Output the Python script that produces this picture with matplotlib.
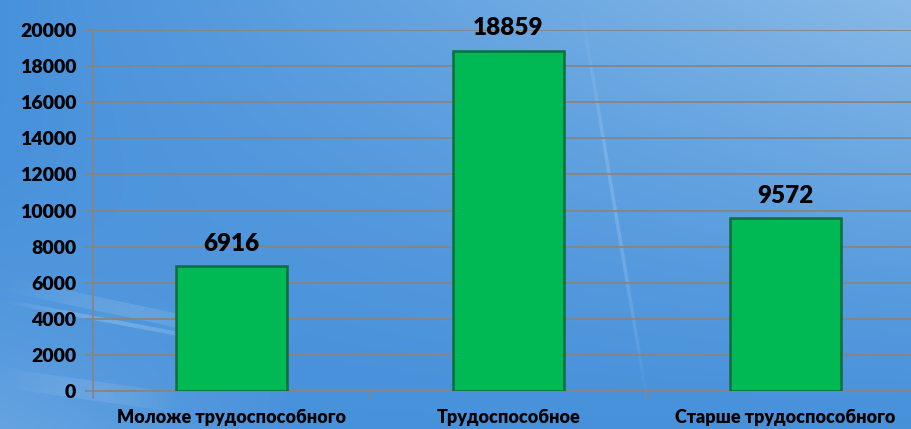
import numpy as np
import matplotlib
matplotlib.use('Agg')
from matplotlib import pyplot as plt
from matplotlib.collections import LineCollection

# Chart data
categories = ['Моложе трудоспособного', 'Трудоспособное', 'Старше трудоспособного']
values = [6916, 18859, 9572]
y_ticks = list(range(0, 20001, 2000))

# Plot aspects
color_bar = '#00b955'
color_edge = '#0c6e3c'
color_grid = '#858585'
plt.rcParams['font.family'] = ['Lato', 'DejaVu Sans']

fig = plt.figure(figsize=(9.12, 4.29), dpi=100)

# Background: blue gradient with faint light streaks
bg = fig.add_axes([0, 0, 1, 1], zorder=-10)
h, w = 215, 456
yy, xx = np.mgrid[0:1:h * 1j, 0:1:w * 1j]
dark = np.array([0.28, 0.57, 0.86])
light = np.array([0.62, 0.78, 0.92])
t = np.clip(0.75 * xx * (1 - yy) ** 1.2 + 0.35 * np.clip(1 - 3 * xx, 0, 1) * yy ** 3, 0, 1)
img = dark[None, None, :] * (1 - t[..., None]) + light[None, None, :] * t[..., None]
bg.imshow(img, extent=[0, 1, 0, 1], aspect='auto', origin='upper')


def streak(x0, x1, y0, slope, lw, alpha):
    sx = np.linspace(x0, x1, 60)
    sy = y0 + slope * (sx - x0)
    pts = np.array([sx, sy]).T.reshape(-1, 1, 2)
    segs = np.concatenate([pts[:-1], pts[1:]], axis=1)
    fade = np.sin(np.linspace(0, np.pi, len(segs))) * alpha
    cols = [(1, 1, 1, a) for a in fade]
    bg.add_collection(LineCollection(segs, colors=cols, linewidths=lw, capstyle='butt'))


streak(0.0, 0.30, 0.34, -0.45, 10, 0.12)
streak(0.0, 0.25, 0.30, -0.40, 3, 0.20)
streak(0.0, 0.20, 0.12, -0.30, 14, 0.10)
streak(0.636, 0.712, 1.0, -12.7, 2.5, 0.16)
bg.set_xlim(0, 1)
bg.set_ylim(0, 1)
bg.axis('off')

# Main axes
ax = fig.add_axes([93 / 912, 38 / 429, 831 / 912, 361 / 429])
ax.patch.set_alpha(0)
x = np.arange(len(categories))
ax.bar(x, values, width=0.4, color=color_bar, edgecolor=color_edge, linewidth=1.8, zorder=3)
for xi, v in zip(x, values):
    ax.annotate(f'{v}', (xi, v), xytext=(0, 8), textcoords='offset points', ha='center', va='bottom',
                fontsize=17.5, fontweight='heavy', color='black')

ax.set_xlim(-0.5, len(categories) - 0.5)
ax.set_ylim(0, 20000)
ax.set_yticks(y_ticks)
ax.set_yticklabels([str(v) for v in y_ticks], fontsize=14, fontweight='heavy')
ax.set_xticks(x)
ax.set_xticklabels(categories, fontsize=13, fontweight='heavy')
ax.set_xticks(np.arange(-0.5, len(categories), 1.0), minor=True)
ax.grid(axis='y', color=color_grid, linewidth=1.3, zorder=0)
for side in ['top', 'right']:
    ax.spines[side].set_visible(False)
for side in ['left', 'bottom']:
    ax.spines[side].set_color(color_grid)
    ax.spines[side].set_linewidth(1.3)
ax.tick_params(axis='y', which='major', direction='out', length=6, width=1.3, color=color_grid, pad=6)
ax.tick_params(axis='x', which='major', length=0, pad=13)
ax.tick_params(axis='x', which='minor', direction='out', length=6, width=1.3, color=color_grid)

fig.savefig('out.png', dpi=100)
